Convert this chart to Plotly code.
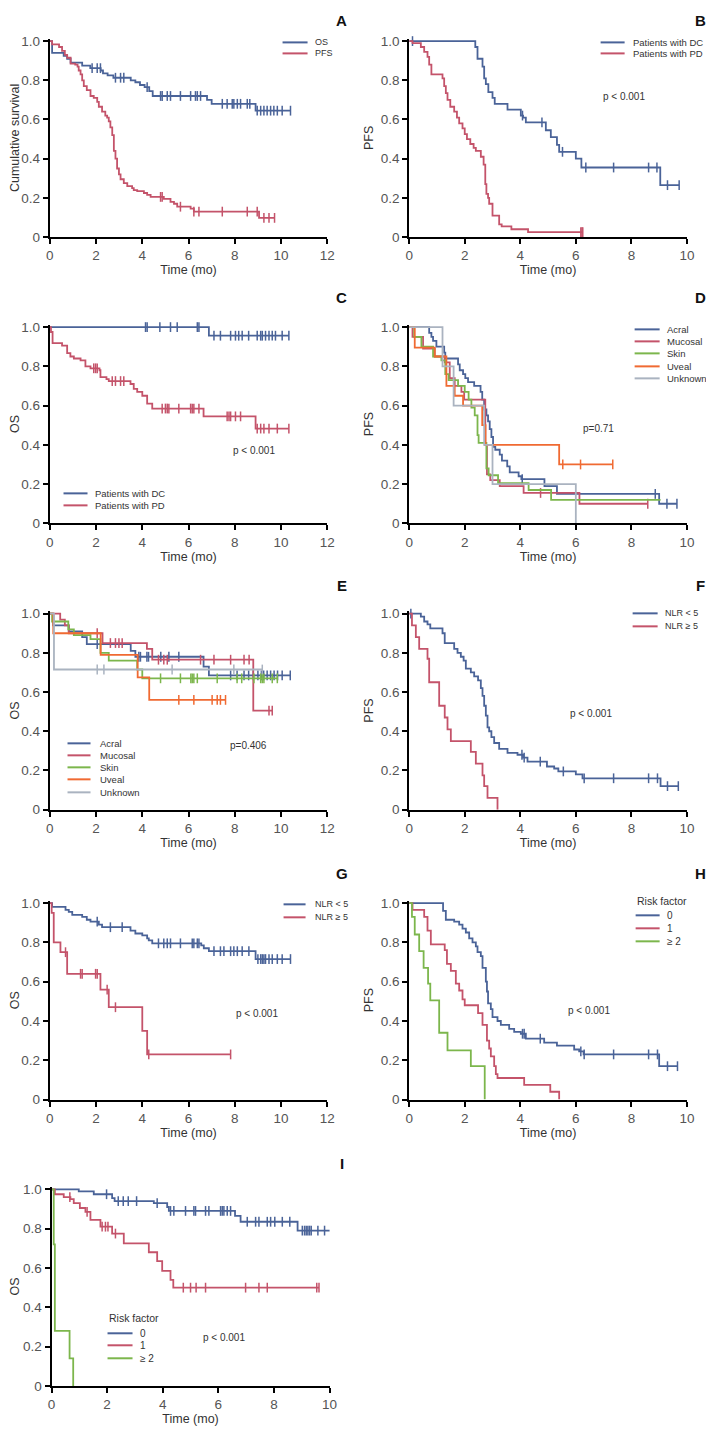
import numpy as np
import plotly.graph_objects as go

W, H = 714, 1432
# the photographed page shows the figure slightly shifted and shrunk;
# layout positions below are given in reference pixels and mapped through this
OX, SX = 11.5, 0.983
OY, SY = 12.6, 0.991
FONT = "Liberation Sans, Arial, sans-serif"
BLUE = "#4a6398"
RED = "#c4536a"
GREEN = "#7cb64c"
ORANGE = "#f06a32"
GRAY = "#aab3c0"

# ---------------- data ----------------
# A: whole cohort
A_OS_T = [0, 0.10, 0.60, 0.75, 0.90, 1.40, 1.75, 2.20, 2.30, 2.50, 2.75, 3.50, 3.70, 3.90, 4.10, 4.30, 4.45, 6.80, 7.00, 8.90]
A_OS_S = [1.0, 0.94, 0.925, 0.91, 0.89, 0.875, 0.862, 0.85, 0.835, 0.825, 0.813, 0.80, 0.79, 0.776, 0.765, 0.745, 0.72, 0.70, 0.68, 0.645]
A_OS_C = [1.83, 2.05, 2.19, 2.84, 3.06, 3.20, 4.21, 4.79, 4.86, 5.08, 5.22, 5.65, 6.09, 6.30, 6.38, 6.52, 7.46, 7.67, 7.89,
          7.96, 8.11, 8.25, 8.54, 8.65, 8.97, 9.12, 9.26, 9.40, 9.55, 9.69, 9.84, 10.05, 10.41]
A_PFS_T = [0, 0.10, 0.40, 0.53, 0.65, 0.75, 0.90, 1.10, 1.20, 1.25, 1.33, 1.40, 1.47, 1.60, 1.76, 1.90, 2.05, 2.12, 2.26, 2.40,
           2.48, 2.55, 2.62, 2.70, 2.77, 2.84, 2.91, 2.99, 3.06, 3.20, 3.35, 3.56, 3.63, 3.78, 4.07, 4.21, 4.36, 4.93, 5.22,
           5.37, 5.51, 6.09, 6.23, 9.05]
A_PFS_S = [1.0, 0.983, 0.97, 0.95, 0.93, 0.915, 0.885, 0.88, 0.87, 0.85, 0.83, 0.80, 0.77, 0.75, 0.72, 0.71, 0.69, 0.665, 0.64,
           0.62, 0.61, 0.59, 0.56, 0.52, 0.44, 0.40, 0.35, 0.32, 0.295, 0.275, 0.26, 0.25, 0.24, 0.235, 0.225, 0.215, 0.205,
           0.195, 0.18, 0.17, 0.155, 0.145, 0.13, 0.098]
A_PFS_C = [4.79, 4.86, 5.65, 6.23, 6.45, 7.46, 8.54, 8.97, 9.26, 9.48, 9.72]

# B: PFS by response
B_DC_T = [0, 2.38, 2.46, 2.64, 2.70, 2.76, 2.85, 3.00, 3.08, 3.54, 4.02, 4.10, 4.20, 4.92, 5.10, 5.32, 5.40, 6.00, 6.20, 9.04]
B_DC_S = [1.0, 0.97, 0.91, 0.87, 0.81, 0.78, 0.74, 0.71, 0.68, 0.65, 0.62, 0.61, 0.585, 0.545, 0.51, 0.47, 0.435, 0.40, 0.355, 0.265]
B_DC_C = [0.12, 4.08, 4.78, 5.52, 6.36, 7.36, 8.62, 8.92, 9.30, 9.72]
B_PD_T = [0, 0.12, 0.42, 0.54, 0.66, 0.72, 0.80, 1.20, 1.26, 1.32, 1.38, 1.48, 1.62, 1.72, 1.80, 1.92, 2.00, 2.08, 2.20, 2.32,
          2.40, 2.58, 2.68, 2.74, 2.78, 2.84, 2.88, 3.00, 3.24, 3.33, 3.68, 4.28]
B_PD_S = [1.0, 0.99, 0.97, 0.945, 0.92, 0.88, 0.83, 0.81, 0.77, 0.735, 0.70, 0.665, 0.64, 0.61, 0.58, 0.555, 0.525, 0.50, 0.475,
          0.455, 0.44, 0.41, 0.37, 0.27, 0.22, 0.20, 0.17, 0.11, 0.065, 0.055, 0.04, 0.025]
B_PD_C = [6.18, 6.22, 6.25]

# C: OS by response
C_DC_T = [0, 6.88]
C_DC_S = [1.0, 0.956]
C_DC_C = [4.14, 4.21, 4.76, 5.22, 5.51, 6.38, 6.45, 7.10, 7.38, 7.82, 8.03, 8.17, 8.32, 8.60, 8.97, 9.12, 9.19, 9.33, 9.48,
          9.62, 9.76, 10.05, 10.34]
C_PD_T = [0, 0.05, 0.12, 0.53, 0.75, 0.89, 1.04, 1.33, 1.54, 1.76, 2.15, 2.19, 2.45, 2.55, 3.49, 3.63, 3.78, 4.00, 4.21, 4.43, 6.65, 8.90]
C_PD_S = [1.0, 0.975, 0.918, 0.905, 0.867, 0.85, 0.84, 0.83, 0.80, 0.79, 0.78, 0.745, 0.735, 0.725, 0.71, 0.685, 0.67, 0.65,
          0.61, 0.585, 0.545, 0.483]
C_PD_C = [1.90, 1.98, 2.05, 2.70, 2.84, 3.06, 3.20, 4.86, 5.00, 5.08, 5.15, 5.58, 6.09, 6.16, 6.23, 6.45, 7.67, 7.75, 7.82,
          8.03, 8.25, 8.97, 9.12, 9.26, 9.48, 9.84, 10.34]

# D: PFS by primary site
D_ACR_T = [0, 0.72, 0.80, 0.86, 0.98, 1.26, 1.30, 1.76, 1.82, 1.94, 2.02, 2.12, 2.34, 2.57, 2.63, 2.70, 2.78, 2.84, 2.90, 2.96,
           3.02, 3.10, 3.26, 3.34, 3.53, 3.62, 3.94, 4.04, 4.87, 5.32, 9.00]
D_ACR_S = [1.0, 0.97, 0.95, 0.93, 0.90, 0.87, 0.84, 0.81, 0.78, 0.76, 0.74, 0.72, 0.70, 0.67, 0.63, 0.58, 0.55, 0.52, 0.48, 0.44,
           0.39, 0.375, 0.35, 0.32, 0.29, 0.26, 0.24, 0.225, 0.19, 0.15, 0.10]
D_ACR_C = [4.07, 8.86, 9.28, 9.64]
D_MUC_T = [0, 0.12, 0.50, 0.92, 1.28, 1.46, 1.64, 1.88, 1.98, 2.74, 2.80, 2.92, 3.26, 4.12, 6.13]
D_MUC_S = [1.0, 0.95, 0.89, 0.85, 0.82, 0.74, 0.70, 0.67, 0.63, 0.40, 0.25, 0.22, 0.19, 0.155, 0.10]
D_MUC_C = [4.73, 8.59]
D_SKN_T = [0, 0.18, 0.44, 0.86, 1.16, 1.30, 1.42, 1.76, 2.00, 2.14, 2.24, 2.36, 2.46, 2.50, 2.78, 2.86, 3.20, 4.30, 5.11]
D_SKN_S = [1.0, 0.95, 0.90, 0.85, 0.83, 0.76, 0.73, 0.70, 0.67, 0.63, 0.59, 0.55, 0.45, 0.41, 0.28, 0.245, 0.205, 0.17, 0.12]
D_SKN_END = 9.05
D_UVE_T = [0, 0.20, 0.92, 1.34, 1.64, 1.94, 2.63, 2.75, 5.40]
D_UVE_S = [1.0, 0.895, 0.85, 0.70, 0.65, 0.60, 0.50, 0.40, 0.30]
D_UVE_C = [5.53, 6.17, 7.33]
D_UNK_T = [0, 1.20, 1.60, 2.70, 3.00, 6.00]
D_UNK_S = [1.0, 0.80, 0.60, 0.40, 0.20, 0.0]

# E: OS by primary site
E_ACR_T = [0, 0.15, 0.82, 1.40, 1.60, 3.50, 3.70, 6.65, 6.88]
E_ACR_S = [1.0, 0.94, 0.91, 0.88, 0.845, 0.81, 0.78, 0.73, 0.685]
E_ACR_C = [2.05, 3.85, 3.92, 4.20, 4.27, 4.80, 5.15, 5.58, 7.82, 8.10, 8.40, 8.60, 8.80, 9.00, 9.15, 9.25, 9.40, 9.55, 9.70,
           9.85, 10.05, 10.40]
E_MUC_T = [0, 0.45, 0.65, 0.82, 2.28, 4.20, 4.43, 8.80]
E_MUC_S = [1.0, 0.97, 0.94, 0.90, 0.85, 0.82, 0.765, 0.505]
E_MUC_C = [2.05, 2.62, 2.84, 2.99, 3.13, 4.70, 4.93, 5.08, 6.52, 7.10, 7.82, 8.40, 8.62, 9.48, 9.62]
E_SKN_T = [0, 0.10, 0.80, 1.04, 1.76, 2.19, 2.55, 3.78, 4.00]
E_SKN_S = [1.0, 0.96, 0.92, 0.89, 0.87, 0.80, 0.76, 0.715, 0.67]
E_SKN_C = [4.79, 5.65, 6.10, 6.16, 6.23, 6.38, 7.24, 8.10, 8.30, 8.83, 9.12, 9.19, 9.26, 9.62, 9.84]
E_UVE_T = [0, 0.15, 2.20, 3.80, 4.30]
E_UVE_S = [1.0, 0.90, 0.79, 0.675, 0.56]
E_UVE_C = [5.58, 6.23, 7.02, 7.24, 7.38, 7.60]
E_UNK_T = [0, 0.18]
E_UNK_S = [1.0, 0.715]
E_UNK_C = [2.05, 2.34, 5.29, 7.96, 9.19]

# F: PFS by NLR
F_LO_T = [0, 0.42, 0.54, 0.66, 0.76, 1.20, 1.28, 1.62, 1.74, 1.86, 1.96, 2.04, 2.22, 2.34, 2.48, 2.58, 2.64, 2.70, 2.76, 2.82,
          2.88, 2.96, 3.06, 3.24, 3.54, 3.90, 4.10, 4.26, 4.96, 5.22, 5.37, 6.00, 6.24, 9.05]
F_LO_S = [1.0, 0.985, 0.96, 0.945, 0.925, 0.90, 0.85, 0.82, 0.80, 0.78, 0.76, 0.72, 0.70, 0.68, 0.66, 0.62, 0.58, 0.53, 0.48,
          0.42, 0.40, 0.37, 0.34, 0.31, 0.29, 0.28, 0.265, 0.245, 0.22, 0.21, 0.195, 0.18, 0.16, 0.12]
F_LO_C = [0.06, 4.06, 4.14, 4.72, 5.55, 6.30, 7.36, 8.62, 8.94, 9.30, 9.69]
F_HI_T = [0, 0.10, 0.24, 0.36, 0.66, 0.72, 1.08, 1.28, 1.38, 1.50, 2.22, 2.40, 2.64, 2.70, 2.82, 3.18]
F_HI_S = [1.0, 0.94, 0.88, 0.82, 0.77, 0.65, 0.53, 0.47, 0.41, 0.35, 0.295, 0.235, 0.175, 0.12, 0.06, 0.0]

# G: OS by NLR
G_LO_T = [0, 0.10, 0.68, 0.82, 0.97, 1.40, 1.60, 1.76, 2.12, 2.26, 3.49, 3.70, 4.00, 4.21, 4.28, 4.43, 6.55, 6.66, 6.88, 8.90]
G_LO_S = [1.0, 0.98, 0.965, 0.955, 0.94, 0.93, 0.915, 0.905, 0.89, 0.877, 0.86, 0.845, 0.835, 0.82, 0.81, 0.795, 0.785, 0.77, 0.755, 0.715]
G_LO_C = [2.05, 2.62, 3.13, 4.70, 4.93, 5.08, 5.22, 5.65, 6.16, 6.23, 6.38, 6.45, 7.10, 7.38, 7.53, 7.82, 7.96, 8.11, 8.32,
          8.61, 9.00, 9.12, 9.19, 9.26, 9.33, 9.48, 9.62, 9.84, 10.05, 10.41]
G_HI_T = [0, 0.08, 0.17, 0.46, 0.75, 2.19, 2.55, 4.00, 4.21]
G_HI_S = [1.0, 0.95, 0.80, 0.75, 0.64, 0.56, 0.47, 0.35, 0.23]
G_HI_C = [0.68, 1.33, 1.40, 1.98, 2.05, 2.48, 2.84, 4.28, 7.82]

# H: PFS by number of risk factors
H_R0_T = [0, 1.22, 1.32, 1.62, 1.80, 1.92, 2.04, 2.16, 2.28, 2.40, 2.46, 2.58, 2.64, 2.76, 2.80, 2.84, 2.94, 3.00, 3.18, 3.30,
          3.60, 3.78, 4.02, 4.20, 4.86, 5.32, 5.94, 6.12, 6.28, 9.00]
H_R0_S = [1.0, 0.96, 0.915, 0.905, 0.89, 0.87, 0.85, 0.82, 0.80, 0.78, 0.75, 0.73, 0.67, 0.60, 0.55, 0.49, 0.46, 0.42, 0.40,
          0.38, 0.36, 0.345, 0.335, 0.31, 0.29, 0.275, 0.255, 0.245, 0.23, 0.17]
H_R0_C = [4.08, 4.14, 4.72, 6.18, 6.30, 7.36, 8.62, 8.94, 9.30, 9.66]
H_R1_T = [0, 0.12, 0.54, 0.66, 0.78, 1.28, 1.36, 1.50, 1.68, 1.80, 1.92, 2.00, 2.48, 2.64, 2.80, 2.88, 2.94, 3.06, 3.12, 3.18,
          4.14, 5.08, 5.40]
H_R1_S = [1.0, 0.965, 0.93, 0.86, 0.79, 0.76, 0.69, 0.655, 0.59, 0.555, 0.51, 0.48, 0.44, 0.38, 0.30, 0.26, 0.22, 0.17, 0.13,
          0.11, 0.075, 0.04, 0.0]
H_R2_T = [0, 0.10, 0.20, 0.36, 0.52, 0.68, 0.76, 1.08, 1.38, 2.22, 2.72]
H_R2_S = [1.0, 0.93, 0.84, 0.755, 0.67, 0.59, 0.505, 0.34, 0.25, 0.17, 0.0]

# I: OS by number of risk factors
I_R0_T = [0, 0.98, 1.52, 2.18, 2.27, 3.68, 4.16, 4.22, 6.60, 6.80, 8.85]
I_R0_S = [1.0, 0.99, 0.975, 0.955, 0.94, 0.93, 0.91, 0.89, 0.865, 0.835, 0.79]
I_R0_C = [1.98, 2.40, 2.58, 2.76, 3.06, 3.80, 4.28, 4.40, 4.82, 5.12, 5.18, 5.54, 5.66, 6.08, 6.14, 6.20, 6.32, 6.44, 7.04,
          7.34, 7.46, 7.76, 7.88, 8.03, 8.30, 8.57, 9.02, 9.10, 9.16, 9.22, 9.28, 9.34, 9.58, 9.82, 10.31]
I_R1_T = [0, 0.12, 0.44, 0.68, 0.80, 1.02, 1.22, 1.40, 1.76, 2.18, 2.60, 3.50, 3.80, 3.98, 4.28, 4.38]
I_R1_S = [1.0, 0.975, 0.96, 0.95, 0.93, 0.905, 0.885, 0.845, 0.81, 0.775, 0.725, 0.68, 0.635, 0.585, 0.54, 0.50]
I_R1_C = [0.66, 1.28, 1.82, 1.94, 2.03, 2.30, 4.74, 5.00, 5.20, 5.54, 6.98, 7.46, 7.76, 9.54, 9.62]
I_R2_T = [0, 0.08, 0.12, 0.65, 0.78]
I_R2_S = [1.0, 0.72, 0.28, 0.14, 0.0]

Y_TICKS = [0, 0.2, 0.4, 0.6, 0.8, 1.0]
Y_TICKTEXT = ["0", "0.2", "0.4", "0.6", "0.8", "1.0"]

# ---------------- panel layout (reference pixels) ----------------
COL_X = [(49.3, 326.7), (408.6, 686.3)]
ROW_Y = [(236.7, 40.7), (523.0, 326.7), (809.3, 613.3), (1099.3, 902.7), (1385.7, 1189.0)]
YTOP = 1.012

panels = [
    dict(key="A", col=0, row=0, xmax=12, ytitle="Cumulative survival",
         curves=[("OS", BLUE, A_OS_T, A_OS_S, A_OS_C, None), ("PFS", RED, A_PFS_T, A_PFS_S, A_PFS_C, None)],
         leg=dict(x0=282, x1=307, tx=312, ys=[42, 53], size=9), p=None),
    dict(key="B", col=1, row=0, xmax=10, ytitle="PFS",
         curves=[("Patients with DC", BLUE, B_DC_T, B_DC_S, B_DC_C, None),
                 ("Patients with PD", RED, B_PD_T, B_PD_S, B_PD_C, None)],
         leg=dict(x0=600, x1=624, tx=630, ys=[42, 53], size=9.5), p=("p < 0.001", 600, 96)),
    dict(key="C", col=0, row=1, xmax=12, ytitle="OS",
         curves=[("Patients with DC", BLUE, C_DC_T, C_DC_S, C_DC_C, None),
                 ("Patients with PD", RED, C_PD_T, C_PD_S, C_PD_C, None)],
         leg=dict(x0=63, x1=87, tx=92, ys=[493, 505], size=9.5), p=("p < 0.001", 230, 450)),
    dict(key="D", col=1, row=1, xmax=10, ytitle="PFS",
         curves=[("Acral", BLUE, D_ACR_T, D_ACR_S, D_ACR_C, None),
                 ("Mucosal", RED, D_MUC_T, D_MUC_S, D_MUC_C, None),
                 ("Skin", GREEN, D_SKN_T, D_SKN_S, [], D_SKN_END),
                 ("Uveal", ORANGE, D_UVE_T, D_UVE_S, D_UVE_C, None),
                 ("Unknown", GRAY, D_UNK_T, D_UNK_S, [], D_UNK_T[-1])],
         leg=dict(x0=634, x1=659, tx=664, ys=[329, 341, 353, 366, 378], size=9.5), p=("p=0.71", 580, 428)),
    dict(key="E", col=0, row=2, xmax=12, ytitle="OS",
         curves=[("Acral", BLUE, E_ACR_T, E_ACR_S, E_ACR_C, None),
                 ("Mucosal", RED, E_MUC_T, E_MUC_S, E_MUC_C, None),
                 ("Skin", GREEN, E_SKN_T, E_SKN_S, E_SKN_C, None),
                 ("Uveal", ORANGE, E_UVE_T, E_UVE_S, E_UVE_C, None),
                 ("Unknown", GRAY, E_UNK_T, E_UNK_S, E_UNK_C, None)],
         leg=dict(x0=67, x1=90, tx=97, ys=[743, 755, 767, 779, 792], size=9.5), p=("p=0.406", 227, 745)),
    dict(key="F", col=1, row=2, xmax=10, ytitle="PFS",
         curves=[("NLR < 5", BLUE, F_LO_T, F_LO_S, F_LO_C, None),
                 ("NLR ≥ 5", RED, F_HI_T, F_HI_S, [], F_HI_T[-1])],
         leg=dict(x0=632, x1=657, tx=662, ys=[613, 626], size=9), p=("p < 0.001", 567, 713)),
    dict(key="G", col=0, row=3, xmax=12, ytitle="OS",
         curves=[("NLR < 5", BLUE, G_LO_T, G_LO_S, G_LO_C, None),
                 ("NLR ≥ 5", RED, G_HI_T, G_HI_S, G_HI_C, None)],
         leg=dict(x0=283, x1=305, tx=312, ys=[904, 917], size=9), p=("p < 0.001", 233, 1013)),
    dict(key="H", col=1, row=3, xmax=10, ytitle="PFS",
         curves=[("0", BLUE, H_R0_T, H_R0_S, H_R0_C, None),
                 ("1", RED, H_R1_T, H_R1_S, [], H_R1_T[-1]),
                 ("≥ 2", GREEN, H_R2_T, H_R2_S, [], H_R2_T[-1])],
         leg=dict(x0=635, x1=659, tx=664, ys=[915, 928, 941], size=10, title=("Risk factor", 635, 901)),
         p=("p < 0.001", 565, 1010)),
    dict(key="I", col=0, row=4, xmax=10, ytitle="OS", xpx=(51.0, 329.0),
         curves=[("0", BLUE, I_R0_T, I_R0_S, I_R0_C, None),
                 ("1", RED, I_R1_T, I_R1_S, I_R1_C, None),
                 ("≥ 2", GREEN, I_R2_T, I_R2_S, [], I_R2_T[-1])],
         leg=dict(x0=107, x1=132, tx=137, ys=[1333, 1345, 1358], size=10, title=("Risk factor", 107, 1318)),
         p=("p < 0.001", 200, 1337)),
]
LETTER_POS = {"A": (341, 14), "B": (700, 14), "C": (341, 297), "D": (700, 297), "E": (341, 585),
              "F": (700, 585), "G": (341, 873), "H": (700, 873), "I": (341, 1163)}


def px(x):
    return (x - OX) / SX / W


def py(y):
    return 1 - (y - OY) / SY / H


def surv_at(t, s, pts):
    idx = np.searchsorted(np.asarray(t), np.asarray(pts, dtype=float), side="right") - 1
    return np.asarray(s)[idx]


fig = go.Figure()
shapes, annotations = [], []

for i, pn in enumerate(panels, start=1):
    xa = "x" if i == 1 else f"x{i}"
    ya = "y" if i == 1 else f"y{i}"
    x0, x1 = pn.get("xpx", COL_X[pn["col"]])
    yb, yt = ROW_Y[pn["row"]]
    top = yb - (yb - yt) * YTOP

    for name, color, t, s, cens, end in pn["curves"]:
        last = max(cens) if end is None else end
        xs, ys = list(t), list(s)
        if last > xs[-1]:
            xs.append(last)
            ys.append(ys[-1])
        fig.add_trace(go.Scatter(x=xs, y=ys, mode="lines", line=dict(color=color, width=1.8, shape="hv"),
                                 xaxis=xa, yaxis=ya, showlegend=False, hoverinfo="skip"))
        if cens:
            fig.add_trace(go.Scatter(x=cens, y=surv_at(t, s, cens), mode="markers",
                                     marker=dict(symbol="line-ns", size=7, line=dict(color=color, width=1.5)),
                                     xaxis=xa, yaxis=ya, showlegend=False, hoverinfo="skip", cliponaxis=False))

    axis_common = dict(showline=True, linecolor="black", linewidth=2, ticks="outside", ticklen=5, tickwidth=1.5,
                       tickcolor="black", showgrid=False, zeroline=False,
                       tickfont=dict(family=FONT, size=13.5, color="#555555"))
    fig.layout[xa.replace("x", "xaxis")] = dict(
        axis_common, domain=[px(x0), px(x1)], range=[0, pn["xmax"]], dtick=2, anchor=ya,
        title=dict(text="Time (mo)", font=dict(family=FONT, size=12.5, color="#333333"), standoff=3))
    fig.layout[ya.replace("y", "yaxis")] = dict(
        axis_common, domain=[py(yb), py(top)], range=[0, YTOP], tickvals=Y_TICKS, ticktext=Y_TICKTEXT, anchor=xa,
        title=dict(text=pn["ytitle"], font=dict(family=FONT, size=12.5, color="#333333"), standoff=4))

    # legend drawn by hand (compact spacing as in the original)
    lg = pn["leg"]
    for (name, color, *_), ly in zip(pn["curves"], lg["ys"]):
        shapes.append(dict(type="line", xref="paper", yref="paper", x0=px(lg["x0"]), x1=px(lg["x1"]),
                           y0=py(ly), y1=py(ly), line=dict(color=color, width=2)))
        annotations.append(dict(text=name, xref="paper", yref="paper", x=px(lg["tx"]), y=py(ly),
                                xanchor="left", yanchor="middle", showarrow=False,
                                font=dict(family=FONT, size=lg["size"], color="#333333")))
    if "title" in lg:
        txt, tx, ty = lg["title"]
        annotations.append(dict(text=txt, xref="paper", yref="paper", x=px(tx - 1), y=py(ty),
                                xanchor="left", yanchor="middle", showarrow=False,
                                font=dict(family=FONT, size=10.5, color="#333333")))
    if pn["p"]:
        txt, tx, ty = pn["p"]
        annotations.append(dict(text=txt, xref="paper", yref="paper", x=px(tx), y=py(ty),
                                xanchor="left", yanchor="middle", showarrow=False,
                                font=dict(family=FONT, size=10, color="#333333")))
    lx, ly = LETTER_POS[pn["key"]]
    annotations.append(dict(text=f"<b>{pn['key']}</b>", xref="paper", yref="paper", x=px(lx),
                            y=min(py(ly), 1 - 8 / H), xanchor="center", yanchor="middle", showarrow=False,
                            font=dict(family=FONT, size=15, color="#111111")))

fig.update_layout(width=W, height=H, margin=dict(l=0, r=0, t=0, b=0), paper_bgcolor="white",
                  plot_bgcolor="white", shapes=shapes, annotations=annotations, showlegend=False)
fig.write_html("out.html")
